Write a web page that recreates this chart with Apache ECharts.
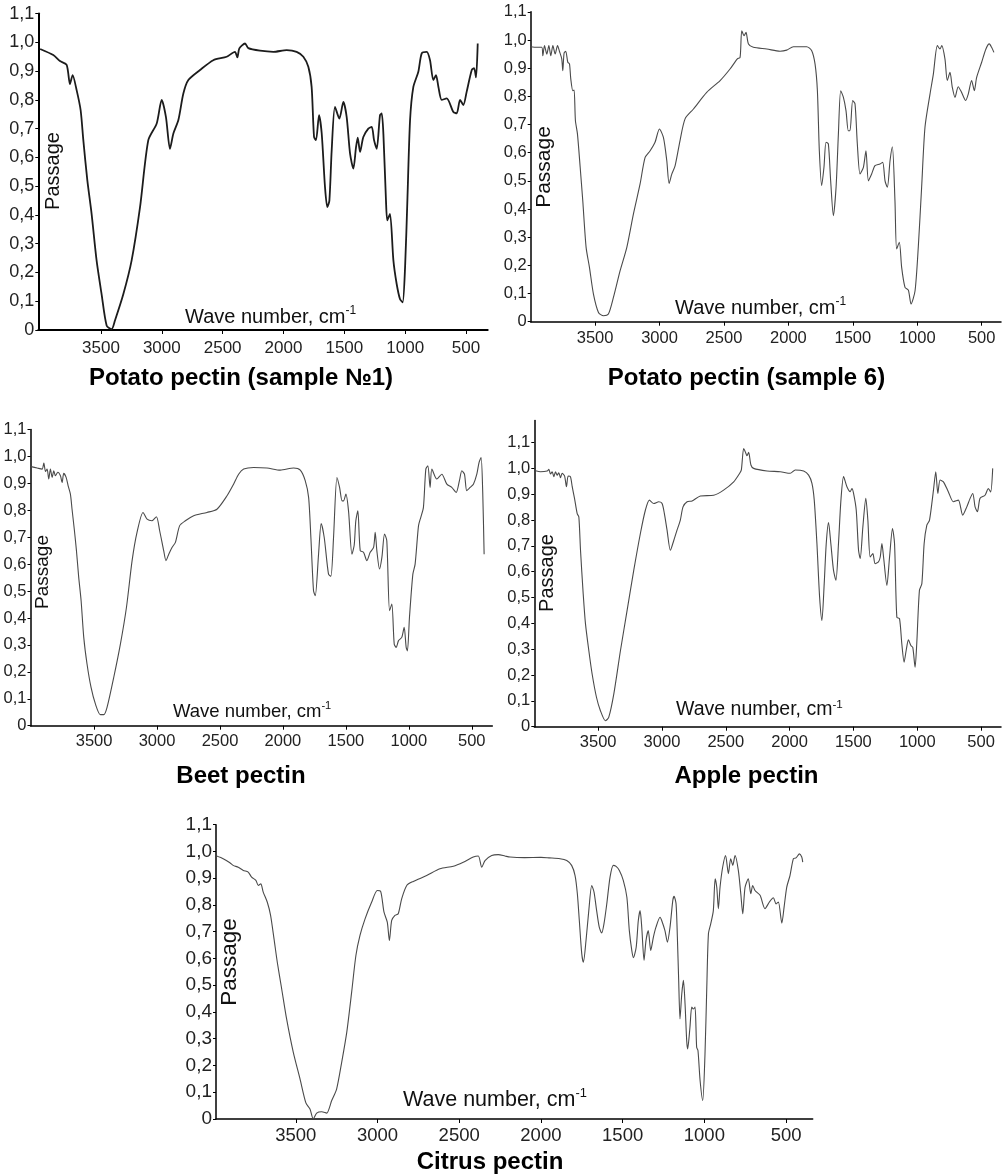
<!DOCTYPE html>
<html>
<head>
<meta charset="utf-8">
<script src="https://cdn.jsdelivr.net/npm/echarts@6/dist/echarts.min.js"></script>
<style>
html,body{margin:0;padding:0;background:#fff;}
#chart{width:1004px;height:1176px;}
</style>
</head>
<body>
<div id="chart"></div>
<script>
// ---- tick labels ----
const xTicks = [3500, 3000, 2500, 2000, 1500, 1000, 500];
const yTicks = [0, 0.1, 0.2, 0.3, 0.4, 0.5, 0.6, 0.7, 0.8, 0.9, 1.0, 1.1];
const panelTitles = ['Potato pectin (sample №1)', 'Potato pectin (sample 6)', 'Beet pectin', 'Apple pectin', 'Citrus pectin'];
const xName = 'Wave number, cm';
const xNameSup = '-1';
const yName = 'Passage';

// ---- spectra: [wave number, passage] ----
const potato1 = [[4000,.977],[3892,.956],[3837,.935],[3782,.922],[3755,.855],[3733,.886],[3700,.834],[3667,.764],[3645,.66],[3612,.52],[3577,.404],[3536,.242],[3495,.125],[3453,.015],[3412,.003],[3385,.033],[3316,.125],[3248,.242],[3179,.427],[3111,.66],[3042,.718],[3001,.80],[2966,.74],[2933,.63],[2905,.683],[2864,.73],[2823,.822],[2782,.869],[2686,.904],[2577,.938],[2467,.95],[2399,.967],[2379,.948],[2363,.979],[2316,.996],[2289,.98],[2193,.971],[2084,.967],[1974,.973],[1892,.967],[1837,.95],[1796,.915],[1769,.845],[1749,.671],[1733,.66],[1708,.747],[1686,.683],[1659,.497],[1640,.427],[1623,.45],[1604,.625],[1577,.776],[1541,.735],[1508,.793],[1481,.741],[1453,.613],[1426,.561],[1404,.636],[1390,.669],[1371,.619],[1344,.671],[1303,.70],[1275,.706],[1256,.66],[1234,.63],[1207,.747],[1193,.753],[1179,.68],[1158,.451],[1147,.381],[1125,.404],[1097,.242],[1070,.16],[1043,.108],[1021,.096],[1001,.218],[982,.451],[960,.729],[933,.845],[892,.898],[864,.962],[823,.967],[796,.938],[769,.869],[747,.886],[727,.845],[700,.80],[659,.805],[604,.758],[577,.753],[549,.80],[522,.782],[495,.828],[453,.904],[434,.91],[418,.878],[404,.996]];

const potato6 = [[3999,.976],[3953,.974],[3914,.974],[3906,.944],[3893,.98],[3875,.95],[3859,.98],[3844,.944],[3828,.98],[3810,.95],[3792,.98],[3777,.96],[3759,.933],[3751,.891],[3741,.953],[3728,.96],[3712,.921],[3699,.915],[3689,.862],[3673,.82],[3663,.822],[3653,.714],[3637,.666],[3616,.548],[3596,.43],[3570,.264],[3544,.193],[3513,.098],[3474,.033],[3435,.021],[3397,.027],[3358,.086],[3306,.181],[3254,.264],[3203,.382],[3151,.489],[3112,.583],[3073,.607],[3035,.637],[3001,.684],[2970,.654],[2944,.572],[2926,.491],[2905,.524],[2879,.554],[2841,.643],[2802,.72],[2737,.755],[2634,.814],[2530,.856],[2453,.897],[2396,.933],[2375,.938],[2362,1.033],[2344,1.015],[2329,1.027],[2310,.986],[2272,.974],[2168,.968],[2065,.96],[2013,.964],[1961,.976],[1858,.976],[1819,.962],[1793,.914],[1775,.82],[1760,.607],[1742,.483],[1724,.548],[1708,.637],[1690,.631],[1672,.50],[1651,.376],[1630,.477],[1612,.666],[1594,.82],[1573,.796],[1553,.749],[1535,.678],[1522,.678],[1501,.785],[1483,.773],[1465,.631],[1444,.524],[1418,.548],[1398,.607],[1379,.50],[1354,.524],[1328,.554],[1289,.56],[1268,.566],[1250,.50],[1232,.477],[1211,.572],[1193,.621],[1173,.43],[1160,.258],[1139,.282],[1121,.193],[1095,.122],[1069,.112],[1048,.063],[1017,.11],[992,.264],[966,.477],[940,.69],[901,.808],[875,.879],[844,.98],[823,.968],[810,.98],[785,.933],[767,.856],[746,.885],[728,.832],[707,.796],[682,.834],[656,.814],[624,.785],[604,.808],[578,.856],[557,.82],[539,.867],[500,.921],[467,.968],[441,.986],[423,.974],[405,.956]];

const beet = [[4000,.962],[3952,.957],[3913,.953],[3899,.975],[3886,.944],[3873,.953],[3860,.916],[3847,.953],[3833,.922],[3820,.947],[3807,.928],[3788,.941],[3767,.928],[3754,.903],[3741,.937],[3722,.922],[3706,.891],[3688,.86],[3675,.804],[3656,.724],[3640,.65],[3622,.551],[3603,.464],[3582,.328],[3556,.229],[3524,.142],[3489,.08],[3450,.041],[3423,.041],[3397,.068],[3344,.179],[3291,.303],[3243,.439],[3198,.613],[3159,.718],[3111,.792],[3079,.767],[3040,.761],[3005,.776],[2979,.724],[2947,.65],[2929,.613],[2907,.637],[2881,.662],[2854,.681],[2820,.743],[2775,.761],[2709,.78],[2603,.792],[2524,.804],[2444,.854],[2392,.897],[2352,.934],[2312,.953],[2233,.959],[2127,.957],[2021,.949],[1915,.957],[1862,.949],[1823,.91],[1796,.848],[1778,.699],[1757,.501],[1743,.483],[1717,.637],[1696,.751],[1672,.699],[1638,.563],[1619,.555],[1598,.699],[1571,.922],[1550,.885],[1530,.835],[1519,.835],[1500,.86],[1479,.798],[1452,.637],[1434,.67],[1421,.761],[1405,.798],[1386,.65],[1360,.644],[1333,.613],[1307,.644],[1280,.662],[1267,.718],[1254,.65],[1233,.582],[1214,.625],[1193,.712],[1175,.687],[1153,.427],[1135,.452],[1116,.303],[1100,.291],[1082,.316],[1056,.328],[1037,.365],[1021,.291],[1011,.278],[995,.402],[968,.563],[950,.60],[923,.743],[905,.774],[884,.811],[865,.953],[849,.965],[831,.885],[817,.953],[778,.916],[738,.934],[698,.897],[659,.885],[624,.866],[598,.91],[579,.947],[558,.934],[540,.873],[513,.885],[487,.897],[460,.934],[442,.978],[426,.996],[413,.866],[402,.637]];

const apple = [[3990,.991],[3951,.987],[3899,.990],[3886,.996],[3873,.978],[3860,.987],[3847,.968],[3834,.987],[3821,.974],[3808,.983],[3795,.964],[3782,.981],[3763,.971],[3748,.929],[3735,.97],[3717,.968],[3703,.929],[3685,.884],[3664,.825],[3651,.812],[3638,.683],[3617,.515],[3599,.398],[3573,.295],[3547,.204],[3513,.114],[3482,.062],[3443,.023],[3417,.036],[3377,.127],[3325,.295],[3273,.45],[3221,.605],[3169,.748],[3130,.838],[3098,.877],[3064,.864],[3025,.871],[2999,.864],[2981,.825],[2960,.761],[2934,.683],[2908,.72],[2882,.761],[2856,.80],[2835,.851],[2803,.871],[2764,.874],[2699,.893],[2595,.896],[2517,.916],[2438,.948],[2391,.981],[2378,.994],[2360,1.077],[2347,1.064],[2334,1.049],[2321,1.062],[2303,1.013],[2282,1.0],[2177,.99],[2073,.987],[1995,.981],[1956,.994],[1890,.99],[1851,.974],[1825,.942],[1807,.877],[1786,.709],[1765,.502],[1747,.411],[1729,.553],[1713,.709],[1695,.79],[1677,.709],[1656,.605],[1637,.567],[1617,.709],[1598,.877],[1577,.968],[1551,.929],[1525,.91],[1512,.922],[1499,.903],[1478,.838],[1460,.683],[1447,.651],[1426,.774],[1403,.884],[1387,.80],[1369,.657],[1348,.67],[1330,.631],[1304,.638],[1290,.657],[1277,.709],[1264,.657],[1238,.547],[1217,.657],[1194,.767],[1178,.709],[1160,.424],[1139,.418],[1121,.321],[1103,.25],[1087,.295],[1069,.336],[1050,.314],[1035,.307],[1017,.23],[1004,.321],[983,.528],[964,.554],[946,.709],[925,.78],[904,.80],[873,.916],[855,.987],[839,.903],[821,.955],[795,.948],[756,.909],[717,.871],[678,.877],[644,.819],[612,.851],[586,.884],[565,.903],[547,.851],[529,.832],[508,.884],[469,.896],[443,.922],[425,.909],[409,1.0]];

const citrus = [[3984,.983],[3944,.973],[3903,.958],[3883,.948],[3852,.941],[3821,.929],[3791,.923],[3770,.904],[3744,.892],[3729,.873],[3714,.879],[3699,.848],[3674,.81],[3654,.761],[3633,.673],[3613,.586],[3586,.486],[3556,.374],[3515,.249],[3474,.15],[3438,.06],[3413,.037],[3393,0.0],[3372,.022],[3341,.027],[3311,.022],[3280,.069],[3250,.112],[3219,.212],[3188,.324],[3158,.474],[3132,.611],[3107,.686],[3076,.748],[3036,.81],[3001,.854],[2980,.85],[2960,.773],[2940,.736],[2927,.667],[2913,.742],[2893,.761],[2873,.767],[2852,.823],[2821,.873],[2781,.888],[2699,.91],[2618,.935],[2536,.945],[2475,.96],[2414,.979],[2383,.983],[2362,.941],[2342,.966],[2301,.985],[2261,.988],[2220,.983],[2189,.979],[2100,.977],[2000,.978],[1950,.976],[1883,.973],[1842,.966],[1812,.948],[1791,.91],[1777,.842],[1765,.742],[1750,.617],[1740,.586],[1724,.667],[1707,.779],[1689,.873],[1675,.848],[1659,.779],[1643,.717],[1628,.695],[1614,.73],[1597,.804],[1577,.904],[1557,.948],[1540,.944],[1520,.929],[1496,.892],[1474,.829],[1459,.704],[1444,.63],[1434,.603],[1417,.642],[1404,.742],[1393,.779],[1383,.717],[1369,.593],[1357,.667],[1343,.704],[1328,.63],[1312,.679],[1296,.717],[1271,.754],[1261,.742],[1241,.704],[1226,.661],[1210,.717],[1193,.817],[1185,.832],[1173,.804],[1165,.679],[1157,.518],[1149,.374],[1138,.468],[1128,.518],[1118,.43],[1108,.293],[1102,.262],[1088,.343],[1077,.418],[1067,.411],[1057,.418],[1047,.268],[1039,.256],[1026,.144],[1010,.069],[996,.243],[985,.493],[975,.692],[961,.729],[945,.779],[934,.898],[924,.866],[914,.786],[904,.866],[888,.941],[870,.985],[853,.917],[839,.973],[826,.948],[812,.985],[792,.929],[777,.842],[765,.767],[751,.866],[731,.898],[716,.842],[704,.873],[690,.854],[659,.836],[629,.786],[602,.811],[578,.827],[561,.804],[547,.811],[526,.732],[512,.792],[496,.866],[476,.91],[455,.973],[439,.976],[418,.991],[404,.979],[398,.96]];

const spectra = [potato1, potato6, beet, apple, citrus];

// ---- layout (positions and styles) ----
const FONT = "'Liberation Sans', Arial, Helvetica, sans-serif";
const layout = [
  {left:38.3, top:13.6, width:449.4, height:316.4, xmin:322, xmax:4015, ymax:1.1, xf:17, yf:18, xm:10, lw:1.8, lc:'#1c1c1c', aw:2,
   pas:[53,171,20], wave:[185,317,20], title:[241,378]},
  {left:530.7, top:11.8, width:470.3, height:309.9, xmin:350, xmax:4000, ymax:1.1, xf:16.5, yf:16.5, xm:8, lw:1.1, lc:'#4a4a4a', aw:1.5,
   pas:[544,167,21], wave:[675,308,20], title:[746.5,378]},
  {left:30.5, top:429.5, width:461.8, height:296.2, xmin:337, xmax:4005, ymax:1.1, xf:16.5, yf:16.5, xm:7.5, lw:1.1, lc:'#4a4a4a', aw:1.5,
   pas:[42.5,572,19], wave:[173,712,18.5], title:[241,776]},
  {left:534.3, top:420.6, width:466.7, height:306.1, xmin:344, xmax:4000, ymax:1.185, xf:16.5, yf:16.5, xm:7.5, lw:1.1, lc:'#4a4a4a', aw:1.5,
   pas:[547,573,20], wave:[676,710,19.5], title:[746.5,776]},
  {left:216, top:824.7, width:596.7, height:294.3, xmin:337, xmax:3988, ymax:1.1, xf:18.5, yf:19, xm:7.5, lw:1.1, lc:'#4a4a4a', aw:1.5,
   pas:[230,962,22.5], wave:[403,1100,21.5], title:[490,1162]}
];

const fmtY = v => (Math.abs(v) < 1e-9 ? '0' : Number(v).toFixed(1).replace('.', ','));
const fmtX = v => String(Math.round(v));

const grids = [], xAxes = [], yAxes = [], series = [], graphics = [];
layout.forEach((L, i) => {
  grids.push({left:L.left, top:L.top, width:L.width, height:L.height, containLabel:false});
  xAxes.push({
    type:'value', gridIndex:i, inverse:true, min:L.xmin, max:L.xmax,
    axisLine:{show:true, onZero:false, lineStyle:{color:'#000', width:L.aw}},
    axisTick:{show:true, length:4, lineStyle:{color:'#000', width:1}, customValues:xTicks},
    axisLabel:{show:true, customValues:xTicks, margin:L.xm, color:'#222', fontSize:L.xf, fontFamily:FONT, formatter:fmtX},
    splitLine:{show:false}
  });
  yAxes.push({
    type:'value', gridIndex:i, min:0, max:L.ymax,
    axisLine:{show:true, onZero:false, lineStyle:{color:'#000', width:L.aw}},
    axisTick:{show:true, length:3, lineStyle:{color:'#000', width:1}, customValues:yTicks},
    axisLabel:{show:true, customValues:yTicks, margin:4, color:'#222', fontSize:L.yf, fontFamily:FONT, formatter:fmtY},
    splitLine:{show:false}
  });
  series.push({
    type:'line', xAxisIndex:i, yAxisIndex:i, data:spectra[i],
    showSymbol:false, symbol:'none', smooth:0.25, animation:false,
    lineStyle:{color:L.lc, width:L.lw}
  });
  graphics.push({
    type:'text', x:L.pas[0], y:L.pas[1], rotation:Math.PI/2,
    style:{text:yName, fill:'#111', fontSize:L.pas[2], fontFamily:FONT, align:'center', verticalAlign:'middle'}
  });
  graphics.push({
    type:'text', x:L.wave[0], y:L.wave[1],
    style:{
      text:'{a|' + xName + '}{b|' + xNameSup + '}', align:'left', verticalAlign:'middle',
      rich:{
        a:{fontSize:L.wave[2], fontFamily:FONT, fill:'#111', lineHeight:L.wave[2]*1.2},
        b:{fontSize:L.wave[2]*0.6, fontFamily:FONT, fill:'#111', verticalAlign:'top'}
      }
    }
  });
  graphics.push({
    type:'text', x:L.title[0], y:L.title[1],
    style:{text:panelTitles[i], fill:'#000', fontSize:24, fontWeight:'bold', fontFamily:FONT, align:'center', verticalAlign:'middle'}
  });
});

const chart = echarts.init(document.getElementById('chart'), null, {renderer:'canvas'});
chart.setOption({
  backgroundColor:'#fff',
  animation:false,
  grid:grids, xAxis:xAxes, yAxis:yAxes, series:series,
  graphic:{elements:graphics}
});
</script>
</body>
</html>
